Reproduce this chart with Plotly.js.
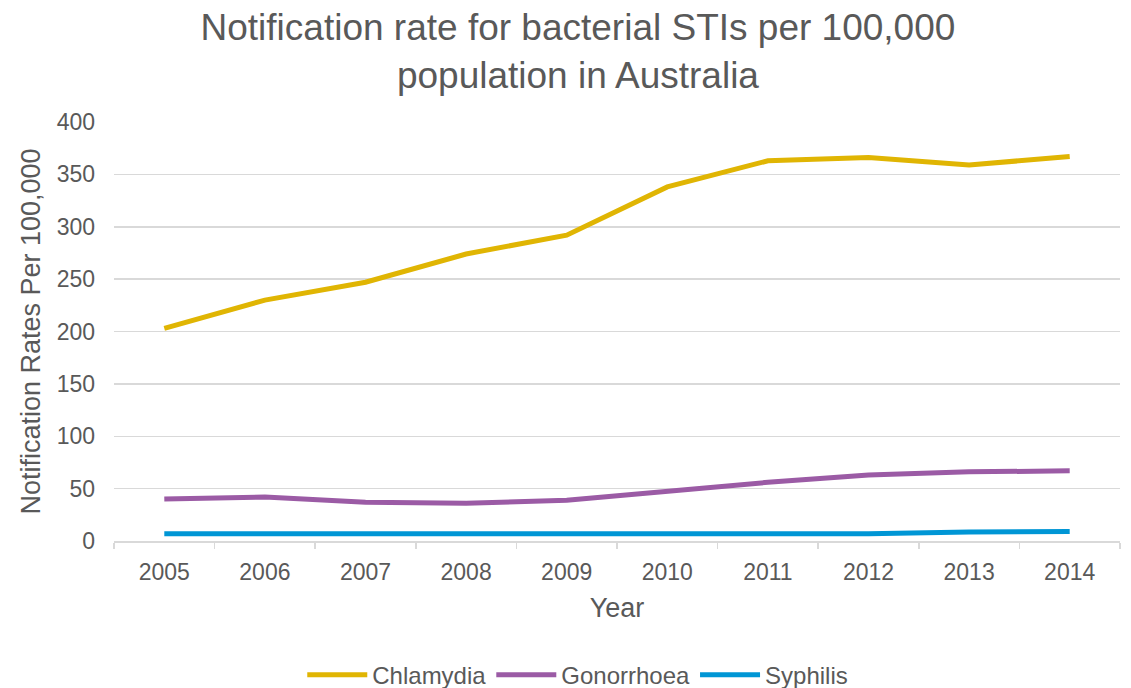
<!DOCTYPE html>
<html>
<head>
<meta charset="utf-8">
<script src="https://cdn.plot.ly/plotly-3.0.1.min.js"></script>
<style>
  html, body { margin: 0; padding: 0; background: #ffffff; }
  #chart { width: 1131px; height: 688px; }
</style>
</head>
<body>
<div id="chart"></div>
<script>
// Notification rates per 100,000 population, Australia
const years = ['2005', '2006', '2007', '2008', '2009', '2010', '2011', '2012', '2013', '2014'];
const chlamydia = [203, 230, 247, 274, 292, 338, 363, 366, 359, 367];
const gonorrhoea = [40, 42, 37, 36, 39, 48, 56, 63, 66, 67];
const syphilis = [7, 7, 7, 7, 7, 7, 7, 7, 8.5, 9];

const textColor = '#595959';
const gridColor = '#d9d9d9';
const font = 'Liberation Sans, Arial, sans-serif';

function series(name, values, color) {
  return {
    type: 'scatter',
    mode: 'lines',
    name: name,
    x: years,
    y: values,
    line: { color: color, width: 5 },
    hoverinfo: 'x+y+name'
  };
}

const data = [
  series('Chlamydia', chlamydia, '#e0b503'),
  series('Gonorrhoea', gonorrhoea, '#9b5ba5'),
  series('Syphilis', syphilis, '#0096d5')
];

const layout = {
  width: 1131,
  height: 688,
  margin: { l: 114, r: 11, t: 122, b: 147, autoexpand: false },
  paper_bgcolor: '#ffffff',
  plot_bgcolor: '#ffffff',
  font: { family: font, color: textColor, size: 23 },
  title: {
    text: 'Notification rate for bacterial STIs per 100,000<br>population in Australia',
    font: { family: font, size: 37, color: textColor },
    xref: 'container',
    x: 0.511,
    xanchor: 'center',
    yref: 'container',
    y: 0.942,
    yanchor: 'top'
  },
  xaxis: {
    type: 'category',
    range: [-0.5, 9.5],
    tickson: 'boundaries',
    ticks: 'outside',
    ticklen: 6,
    tickwidth: 1.5,
    tickcolor: gridColor,
    showline: true,
    linecolor: gridColor,
    linewidth: 1.5,
    showgrid: false,
    tickangle: 0,
    ticklabelstandoff: 10,
    tickfont: { family: font, size: 23, color: textColor },
    title: { text: 'Year', font: { family: font, size: 27, color: textColor }, standoff: 14 }
  },
  yaxis: {
    range: [0, 400],
    dtick: 50,
    showline: false,
    zeroline: false,
    showgrid: true,
    gridcolor: gridColor,
    gridwidth: 1.5,
    ticks: '',
    ticklabelstandoff: 18,
    tickfont: { family: font, size: 23, color: textColor },
    title: { text: 'Notification Rates Per 100,000', font: { family: font, size: 27, color: textColor }, standoff: 8 }
  },
  legend: {
    orientation: 'h',
    x: 0.461,
    xanchor: 'center',
    y: -0.32,
    yanchor: 'middle',
    font: { family: font, size: 24, color: textColor },
    itemwidth: 60
  },
  showlegend: true
};

Plotly.newPlot('chart', data, layout, { displayModeBar: false, staticPlot: true });
</script>
</body>
</html>
